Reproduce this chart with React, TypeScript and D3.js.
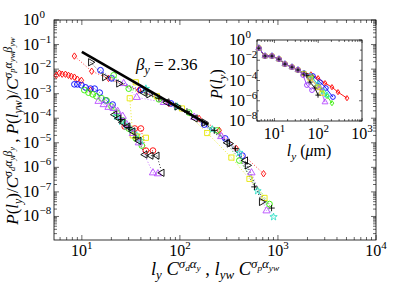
import * as d3 from "d3";

// ---- main panel data: l_y collapse (lower-left branch) ----
const lyRedDiamond = [[5.5, 5.6e-3], [5.9, 6.8e-3], [6.3, 6.2e-3], [6.8, 6.2e-3], [7.3, 5.6e-3], [7.8, 5.1e-3], [8.4, 4.7e-3], [9.0, 3.9e-3], [9.9, 3.5e-3], [12.3, 1.4e-3]];
const lyBlueCircle = [[8.4, 2.4e-3], [9.0, 2.4e-3], [9.9, 2.2e-3], [10.9, 1.8e-3], [12.3, 1.6e-3], [13.5, 1.6e-3], [15.2, 1.1e-3], [17.5, 5.3e-4], [20.6, 3.6e-4]];
const lyGreenCircle = [[10.6, 1.4e-3], [11.7, 1.1e-3], [12.9, 9.4e-4], [14.1, 7.8e-4], [15.9, 6.5e-4], [17.9, 5.3e-4], [20.1, 3.0e-4], [22.6, 1.7e-4], [26.1, 8.1e-5], [30.1, 3.8e-5], [35.5, 1.5e-5], [40.9, 7.7e-6]];
const lyPurpleTri = [[14.8, 4.9e-4], [16.7, 3.6e-4], [18.7, 2.8e-4], [21.1, 2.5e-4], [23.2, 1.9e-4], [26.1, 1.2e-4], [28.7, 5.5e-5], [33.1, 2.4e-5], [38.1, 1.0e-5], [53.1, 6.0e-7], [59.7, 5.5e-7]];
const lyBlackLeft = [[21.6, 1.4e-4], [23.8, 9.8e-5], [26.1, 6.7e-5], [29.4, 4.6e-5], [33.1, 2.9e-5], [38.1, 1.2e-5], [44.0, 3.3e-6], [50.6, 3.0e-6], [58.3, 3.0e-6], [65.6, 6.0e-7]];
const lyYellowSquare = [[30.8, 6.5e-4], [33.1, 2.0e-5], [36.3, 1.8e-5], [45.0, 1.6e-5]];
const lyCyanStar = [[22.6, 1.2e-4], [25.5, 7.4e-5], [28.7, 4.6e-5], [32.3, 3.2e-5], [36.3, 2.0e-5], [40.0, 1.2e-5]];
const lyRedCircle = [[27.4, 4.6e-5], [34.7, 3.8e-5], [40.0, 3.8e-5], [45.0, 4.8e-6], [53.1, 4.8e-6]];
const lyBlackPlus = [[24.9, 8.9e-5], [30.1, 4.2e-5], [35.5, 1.6e-5]];

// ---- main panel data: l_yw collapse (upper-right branch) ----
const lywRedDiamond = [[8.4, 0.034], [12.6, 8.2e-3], [18.7, 4.2e-3], [38.1, 1.4e-3], [77.4, 4.0e-4], [157, 9.8e-5], [252, 3.2e-5], [377, 5.8e-6], [713, 5.5e-7]];
const lywBlackRight = [[12.3, 0.019], [17.1, 4.7e-3], [23.8, 2.6e-3], [48.3, 9.4e-4], [93.5, 3.0e-4], [177, 6.7e-5], [319, 9.3e-6], [488, 1.2e-6], [680, 3.9e-8]];
const lywBlueCircle = [[15.5, 9.0e-3], [20.1, 4.2e-3], [40.0, 1.4e-3], [81.1, 4.0e-4], [177, 5.5e-5], [290, 1.5e-5], [434, 3.0e-6]];
const lywGreenCircle = [[21.1, 5.6e-3], [30.1, 1.6e-3], [61.1, 5.9e-4], [124, 1.7e-4], [240, 3.2e-5], [404, 1.9e-6], [820, 3.2e-8]];
const lywPurpleTri = [[26.7, 2.6e-3], [36.3, 7.1e-4], [68.7, 4.4e-4], [140, 1.1e-4], [264, 1.8e-5], [537, 6.0e-7], [765, 1.7e-8]];
const lywYellowSquare = [[35.5, 2.9e-3], [58.3, 7.8e-4], [105, 2.5e-4], [190, 2.5e-5], [335, 2.5e-6], [512, 3.4e-7], [729, 5.7e-8]];
const lywCyanStar = [[45.0, 1.6e-3], [93.5, 3.0e-4], [214, 3.5e-5], [404, 4.0e-6], [619, 1.1e-7], [902, 9.6e-9]];
const lywBlackPlus = [[61.1, 6.5e-4], [118, 1.9e-4], [224, 3.2e-5], [368, 5.8e-6], [576, 1.6e-7], [861, 2.2e-8]];
const lywBlackLeft = [[42.9, 1.1e-3], [73.8, 4.4e-4], [143, 9.8e-5], [305, 1.0e-5], [466, 1.9e-6]];

// power-law guide, beta_y = 2.36
const guideLine = [[10, 0.05], [195, 5.5e-5]];

// ---- inset: raw P(l_y) ----
const insetTrunk = [[4.4, 0.16], [6.1, 0.026], [8.8, 0.026], [12.7, 0.013], [17.4, 4.2e-3], [25.2, 2.1e-3], [34.5, 1.1e-3]];
const insetRed = [[47.3, 6.0e-4], [68, 4.0e-4], [99, 1.7e-4], [143, 5.5e-5], [206, 2.2e-5], [283, 7.1e-6], [454, 1.8e-6]];
const insetBlue = [[47.3, 5.4e-4], [76, 2.8e-4], [110, 6.9e-5], [150, 1.8e-5], [217, 2.3e-6]];
const insetGreen = [[47.3, 5.0e-4], [72, 2.2e-4], [122, 1.1e-5], [159, 2.9e-6], [206, 5.8e-7]];
const insetCyan = [[47.3, 5.0e-4], [65, 2.7e-4], [99, 4.4e-5], [135, 7.1e-6], [159, 3.6e-6]];
const insetMagenta = [[47.3, 4.6e-4], [65, 2.0e-4], [110, 1.8e-5], [143, 7.3e-7]];
const insetYellow = [[47.3, 4.6e-4], [65, 1.7e-4], [99, 2.2e-5], [122, 5.6e-6]];
const insetBlack = [[47.3, 4.4e-4], [55, 3.0e-4], [65, 6.9e-5], [84, 1.8e-5], [99, 3.6e-6]];
const insetPurple = [[45, 3.4e-4], [55, 3.5e-5], [72, 1.1e-5]];

const yTickExps = [0, -1, -2, -3, -4, -5, -6, -7, -8];
const xTickExps = [1, 2, 3, 4];
const insetYExps = [0, -2, -4, -6, -8];
const insetXExps = [1, 2, 3];

const RED = "#ff0000", BLUE = "#0000ff", GREEN = "#33ee00", PURPLE = "#b84dff",
  BLACK = "#000000", YELLOW = "#e6e600", CYAN = "#33e0c8", VIOLET = "#9933ff";

const mainSeries = [
  { data: lyRedDiamond, color: RED, marker: "diamond" },
  { data: lyBlueCircle, color: BLUE, marker: "circle" },
  { data: lyGreenCircle, color: GREEN, marker: "circle" },
  { data: lyRedCircle, color: RED, marker: "circle" },
  { data: lyCyanStar, color: CYAN, marker: "star" },
  { data: lyYellowSquare, color: YELLOW, marker: "square" },
  { data: lyPurpleTri, color: PURPLE, marker: "triangle" },
  { data: lyBlackPlus, color: BLACK, marker: "plus" },
  { data: lyBlackLeft, color: BLACK, marker: "left" },
  { data: lywRedDiamond, color: RED, marker: "diamond" },
  { data: lywBlueCircle, color: BLUE, marker: "circle" },
  { data: lywGreenCircle, color: GREEN, marker: "circle" },
  { data: lywCyanStar, color: CYAN, marker: "star" },
  { data: lywYellowSquare, color: YELLOW, marker: "square" },
  { data: lywPurpleTri, color: PURPLE, marker: "triangle" },
  { data: lywBlackPlus, color: BLACK, marker: "plus" },
  { data: lywBlackLeft, color: BLACK, marker: "left" },
  { data: lywBlackRight, color: BLACK, marker: "right" },
];

const insetSeries = [
  { data: [...insetTrunk, ...insetRed], color: RED, marker: "diamond" },
  { data: [...insetTrunk, ...insetBlue], color: BLUE, marker: "circle" },
  { data: [...insetTrunk, ...insetGreen], color: GREEN, marker: "diamond" },
  { data: [...insetTrunk, ...insetCyan], color: CYAN, marker: "triangle" },
  { data: [...insetTrunk, ...insetMagenta], color: PURPLE, marker: "triangle" },
  { data: [...insetTrunk, ...insetYellow], color: YELLOW, marker: "square" },
  { data: [...insetTrunk, ...insetBlack], color: BLACK, marker: "plus" },
  { data: [...insetTrunk, ...insetPurple], color: VIOLET, marker: "circle" },
];

const FONT = "Liberation Serif, DejaVu Serif, Times New Roman, serif";

const markerPath = (m: string, s: number) => {
  switch (m) {
    case "diamond":
      return `M0,${-s}L${s * 0.7},0L0,${s}L${-s * 0.7},0Z`;
    case "circle":
      return d3.symbol(d3.symbolCircle, Math.PI * s * s * 0.8)() as string;
    case "square":
      return d3.symbol(d3.symbolSquare, s * s * 2.6)() as string;
    case "star":
      return d3.symbol(d3.symbolStar, s * s * 1.6)() as string;
    case "plus":
      return `M${-s},0H${s}M0,${-s}V${s}`;
    default:
      return d3.symbol(d3.symbolTriangle, s * s * 2.2)() as string;
  }
};
const markerRot = (m: string) => (m === "left" ? -90 : m === "right" ? 90 : 0);

const logTicks = (lo: number, hi: number) => {
  const out: { v: number; major: boolean }[] = [];
  for (let e = Math.floor(Math.log10(lo)); e <= Math.ceil(Math.log10(hi)); e++) {
    for (let k = 1; k < 10; k++) {
      const v = k * Math.pow(10, e);
      if (v >= lo * 0.999 && v <= hi * 1.001) out.push({ v, major: k === 1 });
    }
  }
  return out;
};

// tiny LaTeX-ish text: level 0 base, 1 sup, -1 sub, 2 sub inside sup
type Seg = [string, number, boolean];
const SHIFT: Record<number, number> = { 0: 0, 1: -0.38, [-1]: 0.22, 2: -0.2 };
const SCALE: Record<number, number> = { 0: 1, 1: 0.7, [-1]: 0.7, 2: 0.5 };
const MathText = ({ segs, size, x, y, anchor, transform }: any) => {
  let prev = 0;
  return (
    <text x={x} y={y} textAnchor={anchor} transform={transform} style={{ fontFamily: FONT }} fontSize={size}>
      {segs.map(([t, lv, it]: Seg, i: number) => {
        const off = SHIFT[lv] * size;
        const dy = off - prev;
        prev = off;
        return (
          <tspan key={i} dy={dy} fontSize={size * SCALE[lv]} fontStyle={it ? "italic" : "normal"}>
            {t}
          </tspan>
        );
      })}
    </text>
  );
};

const Panel = ({ x, y, series, dotted, msize, sw }: any) => (
  <g>
    {series.map((s: any, i: number) => (
      <path
        key={"l" + i}
        d={d3.line<number[]>().x((d) => x(d[0])).y((d) => y(d[1]))(s.data) as string}
        fill="none"
        stroke={s.color}
        strokeWidth={dotted ? 0.8 : 0.9}
        strokeDasharray={dotted ? "1,2" : undefined}
      />
    ))}
    {series.map((s: any, i: number) =>
      s.data.map((d: number[], j: number) => (
        <path
          key={i + "-" + j}
          d={markerPath(s.marker, msize)}
          transform={`translate(${x(d[0])},${y(d[1])}) rotate(${markerRot(s.marker)})`}
          fill="none"
          stroke={s.color}
          strokeWidth={sw}
        />
      ))
    )}
  </g>
);

const Ticks = ({ x, y, xt, yt, maj, min }: any) => {
  const [x0, x1] = x.range();
  const [y0, y1] = y.range();
  return (
    <g stroke="#000" strokeWidth={0.6}>
      {xt.map((t: any, i: number) => {
        const p = x(t.v), L = t.major ? maj : min;
        return (
          <g key={"x" + i}>
            <line x1={p} x2={p} y1={y0} y2={y0 - L} />
            <line x1={p} x2={p} y1={y1} y2={y1 + L} />
          </g>
        );
      })}
      {yt.map((t: any, i: number) => {
        const p = y(t.v), L = t.major ? maj : min;
        return (
          <g key={"y" + i}>
            <line x1={x0} x2={x0 + L} y1={p} y2={p} />
            <line x1={x1} x2={x1 - L} y1={p} y2={p} />
          </g>
        );
      })}
    </g>
  );
};

export default function App() {
  const x = d3.scaleLog().domain([5.2, 1e4]).range([54, 376]);
  const y = d3.scaleLog().domain([1.1e-9, 1]).range([240, 20]);
  const ix = d3.scaleLog().domain([4, 1000]).range([257, 362]);
  const iy = d3.scaleLog().domain([1e-8, 1]).range([121, 40]);

  const yLabel: Seg[] = [
    ["P", 0, true], ["(", 0, false], ["l", 0, true], ["y", -1, true], [")", 0, false], ["/", 0, false],
    ["C", 0, true], ["σ", 1, true], ["d", 2, true], ["α", 1, true], ["y", 2, true], ["β", 1, true], ["y", 2, true],
    [" , ", 0, false],
    ["P", 0, true], ["(", 0, false], ["l", 0, true], ["yw", -1, true], [")", 0, false], ["/", 0, false],
    ["C", 0, true], ["σ", 1, true], ["p", 2, true], ["α", 1, true], ["yw", 2, true], ["β", 1, true], ["yw", 2, true],
  ];
  const xLabel: Seg[] = [
    ["l", 0, true], ["y", -1, true], [" ", 0, false], ["C", 0, true], ["σ", 1, true], ["d", 2, true], ["α", 1, true], ["y", 2, true],
    [" ,  ", 0, false],
    ["l", 0, true], ["yw", -1, true], [" ", 0, false], ["C", 0, true], ["σ", 1, true], ["p", 2, true], ["α", 1, true], ["yw", 2, true],
  ];

  return (
    <svg width={415} height={282} style={{ position: "absolute", left: 0, top: 0, background: "#fff" }}>
      <rect x={54} y={20} width={322} height={220} fill="#fff" stroke="#000" strokeWidth={0.8} />
      <Ticks x={x} y={y} xt={logTicks(5.2, 1e4)} yt={logTicks(1.1e-9, 1)} maj={5} min={3} />

      {yTickExps.map((e) => (
        <g key={"yl" + e} style={{ fontFamily: FONT }}>
          <text x={39} y={y(Math.pow(10, e)) + 5} fontSize={16} textAnchor="end">10</text>
          <text x={39.5} y={y(Math.pow(10, e)) - 2} fontSize={11}>{e < 0 ? "\u2212" + -e : e}</text>
        </g>
      ))}
      {xTickExps.map((e) => (
        <text key={"xl" + e} x={x(Math.pow(10, e))} y={256} style={{ fontFamily: FONT }} fontSize={16} textAnchor="middle">
          10<tspan dy={-7} fontSize={11}>{e}</tspan>
        </text>
      ))}

      <Panel x={x} y={y} series={mainSeries} dotted msize={3.2} sw={0.9} />

      <path
        d={d3.line<number[]>().x((d) => x(d[0])).y((d) => y(d[1]))(guideLine) as string}
        stroke="#000"
        strokeWidth={2.6}
      />
      <MathText
        segs={[["β", 0, true], ["y", -1, true], [" = 2.36", 0, false]]}
        size={17}
        x={136}
        y={70}
        anchor="start"
      />

      <MathText segs={xLabel} size={18.5} x={215} y={275} anchor="middle" />
      <MathText segs={yLabel} size={17} x={0} y={0} anchor="middle" transform="translate(18,131) rotate(-90)" />

      {/* inset */}
      <rect x={257} y={40} width={105} height={81} fill="#fff" stroke="#000" strokeWidth={0.8} />
      <Ticks
        x={ix}
        y={iy}
        xt={logTicks(4, 1000)}
        yt={logTicks(1e-8, 1).filter((t) => t.major).map((t) => ({ v: t.v, major: Math.round(Math.log10(t.v)) % 2 === 0 }))}
        maj={3}
        min={2}
      />
      <Panel x={ix} y={iy} series={insetSeries} dotted={false} msize={2.6} sw={0.9} />
      {insetYExps.map((e) => (
        <g key={"iyl" + e} style={{ fontFamily: FONT }}>
          <text x={245} y={iy(Math.pow(10, e)) + 5} fontSize={16} textAnchor="end">10</text>
          <text x={245.5} y={iy(Math.pow(10, e)) - 2} fontSize={11}>{e < 0 ? "\u2212" + -e : e}</text>
        </g>
      ))}
      {insetXExps.map((e) => (
        <text key={"ixl" + e} x={ix(Math.pow(10, e))} y={139} style={{ fontFamily: FONT }} fontSize={16} textAnchor="middle">
          10<tspan dy={-7} fontSize={11}>{e}</tspan>
        </text>
      ))}
      <MathText
        segs={[["P", 0, true], ["(", 0, false], ["l", 0, true], ["y", -1, true], [")", 0, false]]}
        size={16}
        x={0}
        y={0}
        anchor="middle"
        transform="translate(222,84) rotate(-90)"
      />
      <MathText
        segs={[["l", 0, true], ["y", -1, true], [" (", 0, false], ["μ", 0, true], ["m)", 0, false]]}
        size={16}
        x={309}
        y={156}
        anchor="middle"
      />
    </svg>
  );
}
